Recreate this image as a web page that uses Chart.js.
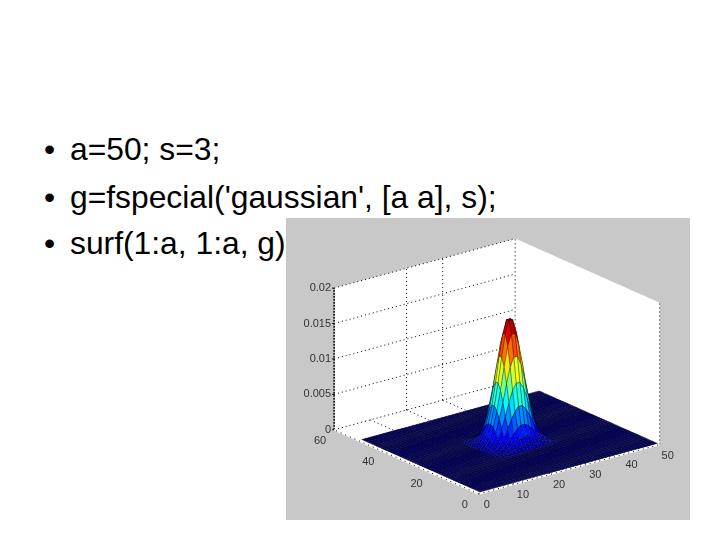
<!DOCTYPE html>
<html>
<head>
<meta charset="utf-8">
<title>surf gaussian</title>
<script src="https://cdn.jsdelivr.net/npm/chart.js@4"></script>
<style>
    html, body { margin: 0; padding: 0; background: #fff; }
    body { width: 720px; height: 540px; position: relative; overflow: hidden; }
    .bullet { position: absolute; font: 31.8px "Liberation Sans", Arial, sans-serif; color: #000; white-space: nowrap; }
    .bullet span { position: absolute; left: -26px; }
    #figure { position: absolute; left: 286px; top: 218px; width: 404px; height: 302px; background: #c8c8c8; }
</style>
</head>
<body>
<div id="bullets"></div>
<div id="figure"><canvas id="surfChart" width="404" height="302"></canvas></div>
<script>
// Code lines on the slide
const codeLines = ["a=50; s=3;", "g=fspecial('gaussian', [a a], s);", "surf(1:a, 1:a, g)"];

// Axis ticks
const xTicks = [0, 10, 20, 30, 40, 50];
const yTicks = [0, 20, 40, 60];
const zTicks = [0, 0.005, 0.01, 0.015, 0.02];
const zTickLabels = ['0', '0.005', '0.01', '0.015', '0.02'];

// Dotted grid lines visible on the walls and the floor
const wallGridX = [20, 30];
const floorGridX = [10, 20, 30];

// Surface samples, 1:50 on both axes
const surfaceIndex = [1, 2, 3, 4, 5, 6, 7, 8, 9, 10, 11, 12, 13, 14, 15, 16, 17, 18, 19, 20, 21, 22, 23, 24, 25,
    26, 27, 28, 29, 30, 31, 32, 33, 34, 35, 36, 37, 38, 39, 40, 41, 42, 43, 44, 45, 46, 47, 48, 49, 50];

// Height of the bump (x 0.0001), rows and columns 18..33 of g, flat zero outside
const bumpStart = 18;
const bumpValues = [
    [0, 1, 1, 3, 4, 5, 7, 8, 8, 7, 5, 4, 3, 1, 1, 0],
    [1, 2, 3, 5, 9, 12, 15, 17, 17, 15, 12, 9, 5, 3, 2, 1],
    [1, 3, 6, 11, 17, 23, 29, 32, 32, 29, 23, 17, 11, 6, 3, 1],
    [3, 5, 11, 19, 29, 41, 51, 57, 57, 51, 41, 29, 19, 11, 5, 3],
    [4, 9, 17, 29, 45, 63, 79, 88, 88, 79, 63, 45, 29, 17, 9, 4],
    [5, 12, 23, 41, 63, 88, 110, 123, 123, 110, 88, 63, 41, 23, 12, 5],
    [7, 15, 29, 51, 79, 110, 138, 154, 154, 138, 110, 79, 51, 29, 15, 7],
    [8, 17, 32, 57, 88, 123, 154, 172, 172, 154, 123, 88, 57, 32, 17, 8],
    [8, 17, 32, 57, 88, 123, 154, 172, 172, 154, 123, 88, 57, 32, 17, 8],
    [7, 15, 29, 51, 79, 110, 138, 154, 154, 138, 110, 79, 51, 29, 15, 7],
    [5, 12, 23, 41, 63, 88, 110, 123, 123, 110, 88, 63, 41, 23, 12, 5],
    [4, 9, 17, 29, 45, 63, 79, 88, 88, 79, 63, 45, 29, 17, 9, 4],
    [3, 5, 11, 19, 29, 41, 51, 57, 57, 51, 41, 29, 19, 11, 5, 3],
    [1, 3, 6, 11, 17, 23, 29, 32, 32, 29, 23, 17, 11, 6, 3, 1],
    [1, 2, 3, 5, 9, 12, 15, 17, 17, 15, 12, 9, 5, 3, 2, 1],
    [0, 1, 1, 3, 4, 5, 7, 8, 8, 7, 5, 4, 3, 1, 1, 0]
];

// Jet colormap stops
const jetStops = [[0, 0, 143], [0, 0, 255], [0, 255, 255], [255, 255, 0], [255, 0, 0], [128, 0, 0]];
const jetPositions = [0, 0.11, 0.375, 0.625, 0.875, 1];

document.addEventListener('DOMContentLoaded', function() {
    drawBullets();
    initSurfChart();
});

function drawBullets() {
    const holder = document.getElementById('bullets');
    const tops = [131, 179, 225];
    codeLines.forEach((line, i) => {
        const el = document.createElement('div');
        el.className = 'bullet';
        el.style.left = '70px';
        el.style.top = tops[i] + 'px';
        el.textContent = line;
        const dot = document.createElement('span');
        dot.textContent = '•';
        el.appendChild(dot);
        holder.appendChild(el);
    });
}

// Fixed MATLAB view, axes are parallel on screen
function project(x, y, z) {
    return {
        x: 192.7 + x * 3.62 - y * 2.41,
        y: 276 - x * 0.99 - y * 1.07 - z * 7085
    };
}

function heightAt(i, j) {
    const row = bumpValues[j - bumpStart];
    if (!row || row[i - bumpStart] === undefined) return 0;
    return row[i - bumpStart] / 10000;
}

function jetColor(t) {
    let k = 0;
    while (k < jetPositions.length - 2 && t > jetPositions[k + 1]) k++;
    const f = Math.min(1, (t - jetPositions[k]) / (jetPositions[k + 1] - jetPositions[k]));
    const c = jetStops[k].map((v, n) => Math.round(v + (jetStops[k + 1][n] - v) * f));
    return 'rgb(' + c.join(',') + ')';
}

function polygon(points, fillColor) {
    return {
        data: points.concat([points[0]]),
        showLine: true,
        fill: 'shape',
        backgroundColor: fillColor,
        borderColor: fillColor,
        borderWidth: 0,
        pointRadius: 0
    };
}

function segment(a, b, color, width, dash) {
    return {
        data: [a, b],
        showLine: true,
        fill: false,
        borderColor: color,
        borderWidth: width,
        borderDash: dash || [],
        pointRadius: 0
    };
}

function buildBox() {
    const xMax = xTicks[xTicks.length - 1];
    const yMax = yTicks[yTicks.length - 1];
    const zMax = zTicks[zTicks.length - 1];
    const dots = [1, 3];
    const list = [];

    list.push(polygon([project(0, yMax, 0), project(0, yMax, zMax), project(xMax, yMax, zMax), project(xMax, yMax, 0)], '#fff'));
    list.push(polygon([project(xMax, 0, 0), project(xMax, 0, zMax), project(xMax, yMax, zMax), project(xMax, yMax, 0)], '#fff'));
    list.push(polygon([project(0, 0, 0), project(xMax, 0, 0), project(xMax, yMax, 0), project(0, yMax, 0)], '#fff'));

    zTicks.forEach(z => {
        list.push(segment(project(0, yMax, z), project(xMax, yMax, z), '#000', 1, dots));
    });
    wallGridX.forEach(x => {
        list.push(segment(project(x, yMax, 0), project(x, yMax, zMax), '#000', 1, dots));
    });
    floorGridX.forEach(x => {
        list.push(segment(project(x, yMax, 0), project(x, 0, 0), '#000', 1, dots));
    });
    list.push(segment(project(xMax, yMax, 0), project(xMax, yMax, zMax), '#000', 1, dots));
    list.push(segment(project(xMax, 0, 0), project(xMax, 0, zMax), '#000', 1, dots));
    list.push(segment(project(0, yMax, 0), project(0, yMax, zMax), '#000', 1.5, [2, 1]));
    return list;
}

function buildSurface() {
    const zPeak = 0.0172;
    const list = [];
    // far corner first, the painter order hides what is behind the bump
    for (let b = surfaceIndex.length - 2; b >= 0; b--) {
        for (let a = surfaceIndex.length - 2; a >= 0; a--) {
            const i = surfaceIndex[a], j = surfaceIndex[b];
            const i2 = surfaceIndex[a + 1], j2 = surfaceIndex[b + 1];
            const zs = [heightAt(i, j), heightAt(i2, j), heightAt(i2, j2), heightAt(i, j2)];
            const mean = (zs[0] + zs[1] + zs[2] + zs[3]) / 4;
            const quad = polygon([project(i, j, zs[0]), project(i2, j, zs[1]), project(i2, j2, zs[2]), project(i, j2, zs[3])], jetColor(mean / zPeak));
            // mesh reads lighter on the raised part
            quad.borderColor = mean > 0 ? 'rgba(0,0,0,0.5)' : 'rgba(0,0,0,0.75)';
            quad.borderWidth = 0.6;
            list.push(quad);
        }
    }
    return list;
}

function buildFrontAxes() {
    const xMax = xTicks[xTicks.length - 1];
    const yMax = yTicks[yTicks.length - 1];
    const list = [];
    list.push(segment(project(0, 0, 0), project(xMax, 0, 0), '#fff', 1.5));
    list.push(segment(project(0, 0, 0), project(0, yMax, 0), '#fff', 1.5));
    list.push(segment(project(0, 0, 0), project(xMax, 0, 0), '#000', 1, [1, 4]));
    list.push(segment(project(0, 0, 0), project(0, yMax, 0), '#000', 1, [1, 4]));
    return list;
}

const tickLabelPlugin = {
    id: 'tickLabels',
    afterDatasetsDraw(chart) {
        const ctx = chart.ctx;
        const sx = chart.scales.x, sy = chart.scales.y;
        const yMax = yTicks[yTicks.length - 1];
        ctx.save();
        ctx.font = '11px "Liberation Sans", Arial, sans-serif';
        ctx.fillStyle = '#333';
        ctx.strokeStyle = '#000';
        ctx.textBaseline = 'middle';

        ctx.textAlign = 'right';
        zTicks.forEach((z, n) => {
            const p = project(0, yMax, z);
            const px = sx.getPixelForValue(p.x), py = sy.getPixelForValue(p.y);
            ctx.fillText(zTickLabels[n], px - 3, py);
            ctx.beginPath();
            ctx.moveTo(px - 2, py);
            ctx.lineTo(px, py);
            ctx.stroke();
        });

        ctx.textAlign = 'center';
        xTicks.forEach(x => {
            const p = project(x, 0, 0);
            ctx.fillText(String(x), sx.getPixelForValue(p.x) + 8, sy.getPixelForValue(p.y) + 11);
        });
        yTicks.forEach(y => {
            const p = project(0, y, 0);
            ctx.fillText(String(y), sx.getPixelForValue(p.x) - 14, sy.getPixelForValue(p.y) + 11);
        });
        ctx.restore();
    }
};

function initSurfChart() {
    const canvas = document.getElementById('surfChart');
    if (!canvas) return;

    const ctx = canvas.getContext('2d');
    // Chart.js paints dataset 0 last, so the back-to-front list is reversed
    const datasets = buildBox().concat(buildSurface(), buildFrontAxes()).reverse();

    new Chart(ctx, {
        type: 'scatter',
        data: { datasets: datasets },
        options: {
            responsive: false,
            animation: false,
            events: [],
            layout: { padding: 0 },
            plugins: {
                legend: { display: false },
                tooltip: { enabled: false }
            },
            scales: {
                x: { type: 'linear', display: false, min: 0, max: 404 },
                y: { type: 'linear', display: false, min: 0, max: 302, reverse: true }
            }
        },
        plugins: [tickLabelPlugin]
    });
}
</script>
</body>
</html>
